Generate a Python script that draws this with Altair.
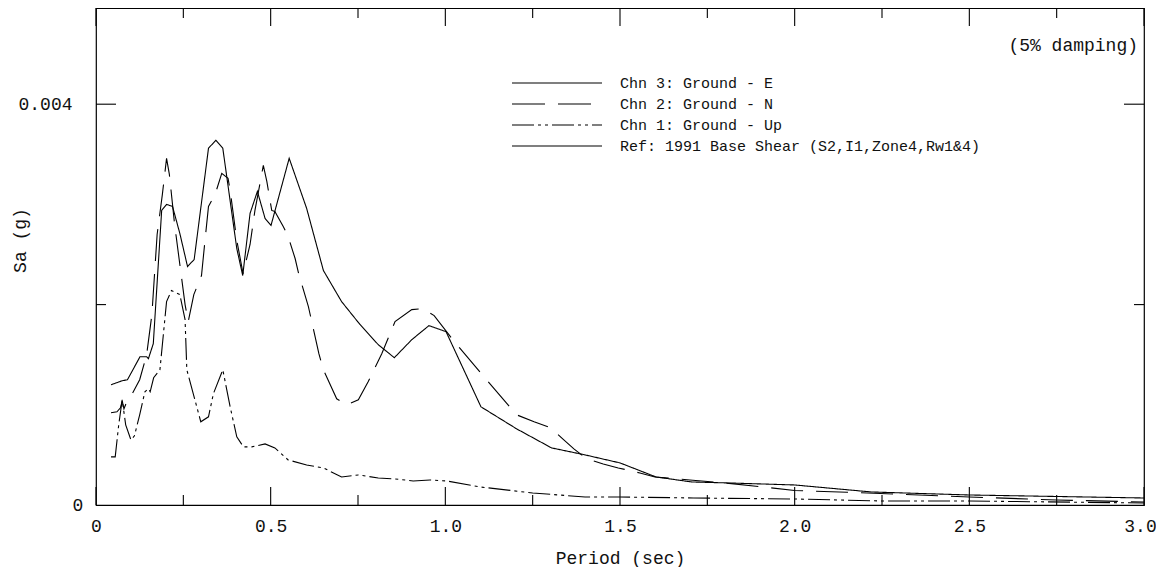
import altair as alt
import pandas as pd

# ---- data (Period in sec, Sa in g) ----
T_E = [0.043, 0.059, 0.075, 0.09, 0.126, 0.145, 0.15, 0.164, 0.188, 0.202, 0.219, 0.24, 0.262, 0.281,
       0.322, 0.343, 0.363, 0.403, 0.42, 0.441, 0.462, 0.484, 0.501, 0.553, 0.603, 0.651, 0.703, 0.756,
       0.808, 0.854, 0.904, 0.953, 1.002, 1.102, 1.204, 1.304, 1.40, 1.50, 1.603, 1.705, 1.81, 2.0,
       2.22, 2.5, 3.0]
SA_E = [0.0012, 0.00122, 0.00124, 0.00125, 0.00148, 0.00148, 0.00146, 0.00161, 0.00294, 0.0030, 0.00298,
        0.00271, 0.00238, 0.00245, 0.00356, 0.00364, 0.00356, 0.00256, 0.00229, 0.00291, 0.00313, 0.00286,
        0.00279, 0.00346, 0.00296, 0.00234, 0.00203, 0.0018, 0.0016, 0.00147, 0.00165, 0.00179, 0.00173,
        0.00098, 0.00076, 0.00057, 0.0005, 0.00042, 0.00028, 0.00023, 0.00022, 0.0002, 0.00013, 0.0001,
        0.00007]

T_N = [0.043, 0.06, 0.07, 0.075, 0.08, 0.088, 0.102, 0.125, 0.145, 0.16, 0.175, 0.19, 0.202, 0.21, 0.225,
       0.24, 0.255, 0.264, 0.28, 0.302, 0.312, 0.322, 0.341, 0.36, 0.378, 0.384, 0.403, 0.421, 0.441, 0.455,
       0.479, 0.489, 0.503, 0.512, 0.536, 0.55, 0.57, 0.58, 0.608, 0.638, 0.651, 0.689, 0.718, 0.751, 0.779,
       0.818, 0.856, 0.904, 0.935, 0.968, 1.028, 1.118, 1.204, 1.254, 1.302, 1.336, 1.368, 1.405, 1.452,
       1.495, 1.557, 1.6, 1.7, 1.8, 1.91, 2.0, 2.15, 2.5, 2.75, 3.0]
SA_N = [0.00092, 0.00093, 0.00097, 0.00104, 0.00096, 0.00103, 0.0011, 0.00125, 0.0015, 0.0019, 0.0027,
        0.0031, 0.00346, 0.0033, 0.0028, 0.0024, 0.0020, 0.00183, 0.0021, 0.00229, 0.00264, 0.00298, 0.0031,
        0.00331, 0.00326, 0.00314, 0.00264, 0.00231, 0.0026, 0.00294, 0.00339, 0.00323, 0.00294, 0.00293,
        0.00278, 0.00268, 0.00246, 0.00231, 0.00198, 0.00151, 0.00135, 0.00106, 0.001, 0.00105, 0.00123,
        0.00151, 0.00183, 0.00195, 0.00196, 0.00189, 0.00162, 0.00125, 0.0009, 0.00083, 0.00077, 0.00066,
        0.00056, 0.00046, 0.00041, 0.00037, 0.00032, 0.00028, 0.00025, 0.00022, 0.00018, 0.000145,
        0.000127, 0.00008, 0.00005, 0.00003]

T_UP = [0.043, 0.055, 0.065, 0.075, 0.085, 0.1, 0.11, 0.125, 0.14, 0.15, 0.155, 0.165, 0.183, 0.202, 0.216,
        0.24, 0.255, 0.26, 0.3, 0.322, 0.336, 0.363, 0.384, 0.403, 0.422, 0.446, 0.484, 0.512, 0.55, 0.603,
        0.651, 0.703, 0.751, 0.808, 0.856, 0.908, 0.956, 1.004, 1.1, 1.25, 1.4, 1.5, 1.71, 2.0, 2.25, 2.5, 3.0]
SA_UP = [0.00048, 0.00048, 0.0008, 0.00105, 0.0008, 0.00065, 0.00069, 0.0009, 0.00113, 0.00116, 0.00113,
         0.00127, 0.00135, 0.00203, 0.00214, 0.0021, 0.00185, 0.00135, 0.00083, 0.00088, 0.00111, 0.00135,
         0.00098, 0.00068, 0.00058, 0.00058, 0.00061, 0.00057, 0.00045, 0.0004, 0.00037, 0.00028, 0.0003,
         0.00027, 0.00026, 0.00024, 0.00025, 0.00024, 0.00018, 0.00012, 0.00008, 0.00008, 0.00007, 0.00006,
         0.00004, 0.00004, 0.00002]

SERIES = ["Chn 3: Ground - E", "Chn 2: Ground - N", "Chn 1: Ground - Up"]
LEGEND_LABELS = SERIES + ["Ref:  1991 Base Shear  (S2,I1,Zone4,Rw1&4)"]
NOTE = "(5% damping)"

X_MAJOR = [0, 0.5, 1.0, 1.5, 2.0, 2.5, 3.0]
X_MINOR = [0.25, 0.75, 1.25, 1.75, 2.25, 2.75]
Y_LABELS = [0, 0.004]
Y_MAJOR = [0.004]
Y_MINOR = [0.002]

# ---- build table ----
rows = []
for name, ts, ss in zip(SERIES, [T_E, T_N, T_UP], [SA_E, SA_N, SA_UP]):
    for t, s in zip(ts, ss):
        rows.append({"series": name, "T": t, "Sa": s})
df = pd.DataFrame(rows)

W, H = 1048, 497
FONT = "Liberation Mono"
INK = "#111111"
DASHES = [[1, 0], [32, 13], [22, 4, 3, 4, 3, 4]]
LEG_DASHES = [[1, 0], [33, 13, 33, 40], [22, 4, 3, 4, 3, 4], [1, 0]]
LEG_Y = [75, 96, 117, 138]

xs = alt.Scale(domain=[0, 3], nice=False, zero=False)
ys = alt.Scale(domain=[0, 0.00496], nice=False, zero=True)

XAXIS = alt.Axis(
    values=X_MAJOR, labelExpr="datum.value == 0 ? '0' : format(datum.value, '.1f')",
    labelOffset={"condition": {"test": "datum.value == 3", "value": -4}, "value": 0},
    ticks=False, tickSize=0, domain=False, grid=False, labelFlush=False,
    labelFont=FONT, labelFontSize=18, labelColor=INK, labelPadding=12,
    title="Period (sec)", titleFont=FONT, titleFontSize=18, titleFontWeight="normal",
    titleColor=INK, titlePadding=14)
YAXIS = alt.Axis(
    values=Y_LABELS, labelExpr="datum.value == 0 ? '0' : format(datum.value, '.3f')",
    labelAlign={"condition": {"test": "datum.value == 0", "value": "left"}, "value": "right"},
    ticks=False, tickSize=0, domain=False, grid=False,
    labelFont=FONT, labelFontSize=18, labelColor=INK, labelPadding=24,
    title="Sa  (g)", titleFont=FONT, titleFontSize=18, titleFontWeight="normal",
    titleColor=INK, titleAngle=270, titleX=-76, titleY=232,
    titleAlign="center", titleBaseline="middle")

lines = alt.Chart(df).mark_line(color="black", strokeWidth=1.1, strokeCap="butt").encode(
    x=alt.X("T:Q", scale=xs, axis=XAXIS),
    y=alt.Y("Sa:Q", scale=ys, axis=YAXIS),
    strokeDash=alt.StrokeDash("series:N", scale=alt.Scale(domain=SERIES, range=DASHES), legend=None),
)

tick_style = dict(color="black", strokeWidth=1.1)
xmaj = pd.DataFrame({"v": X_MAJOR})
xmin = pd.DataFrame({"v": X_MINOR})
ymaj = pd.DataFrame({"v": Y_MAJOR})
ymin = pd.DataFrame({"v": Y_MINOR})

def xticks(d, length):
    bot = alt.Chart(d).mark_rule(**tick_style).encode(
        x=alt.X("v:Q", scale=xs, axis=XAXIS), y=alt.value(H), y2=alt.value(H - length))
    top = alt.Chart(d).mark_rule(**tick_style).encode(
        x=alt.X("v:Q", scale=xs, axis=XAXIS), y=alt.value(0), y2=alt.value(length))
    return [bot, top]

def yticks(d, length):
    left = alt.Chart(d).mark_rule(**tick_style).encode(
        y=alt.Y("v:Q", scale=ys, axis=YAXIS), x=alt.value(0), x2=alt.value(length))
    right = alt.Chart(d).mark_rule(**tick_style).encode(
        y=alt.Y("v:Q", scale=ys, axis=YAXIS), x=alt.value(W), x2=alt.value(W - length))
    return [left, right]

ticks = xticks(xmaj, 18) + xticks(xmin, 10) + yticks(ymaj, 20) + yticks(ymin, 10)

one = pd.DataFrame({"a": [0]})
legend = []
for i, (lab, dash) in enumerate(zip(LEGEND_LABELS, LEG_DASHES)):
    legend.append(alt.Chart(one).mark_rule(color="black", strokeWidth=1.1, strokeDash=dash).encode(
        x=alt.value(416), x2=alt.value(506), y=alt.value(LEG_Y[i])))
    legend.append(alt.Chart(one).mark_text(
        text=lab, align="left", baseline="middle", font=FONT, fontSize=15, color=INK).encode(
        x=alt.value(524), y=alt.value(LEG_Y[i])))

note = alt.Chart(one).mark_text(
    text=NOTE, align="right", baseline="middle", font=FONT, fontSize=18, color=INK).encode(
    x=alt.value(1042), y=alt.value(38))

chart = alt.layer(lines, *ticks, *legend, note).properties(
    width=W, height=H,
    autosize=alt.AutoSizeParams(type="none"),
    padding={"left": 88, "top": 0, "right": 12, "bottom": 62},
).configure_view(stroke="black", strokeWidth=1.2)

chart.save("out.html", embed_options={"renderer": "svg", "actions": False})
